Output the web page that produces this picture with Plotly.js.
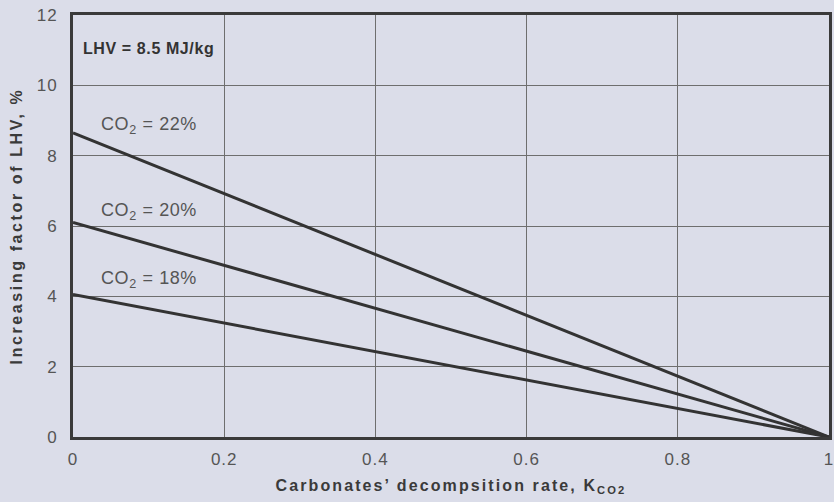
<!DOCTYPE html>
<html>
<head>
<meta charset="utf-8">
<script src="https://cdn.plot.ly/plotly-3.0.1.min.js"></script>
<style>
  html, body { margin: 0; padding: 0; background: #dbdde9; }
  #chart { width: 834px; height: 502px; }
  .xtitle { letter-spacing: 2.1px; }
  .ytitle { letter-spacing: 2.6px; }
  .xtick text, .ytick text { letter-spacing: 1px; }
  .annotation-text { letter-spacing: 0.6px; }
</style>
</head>
<body>
<div id="chart"></div>
<script>
// Carbonate decomposition rate (x) and LHV increase (%) for each flue-gas CO2 content
const decompRate = [0, 1];
const co2Labels = ['CO<sub>2</sub> = 22%', 'CO<sub>2</sub> = 20%', 'CO<sub>2</sub> = 18%'];
const lhvIncrease22 = [8.65, 0];
const lhvIncrease20 = [6.1, 0];
const lhvIncrease18 = [4.05, 0];
const seriesValues = [lhvIncrease22, lhvIncrease20, lhvIncrease18];
const labelY = [8.87, 6.4, 4.47];
const xTickVals = [0, 0.2, 0.4, 0.6, 0.8, 1];
const xTickText = ['0', '0.2', '0.4', '0.6', '0.8', '1'];
const yTickVals = [0, 2, 4, 6, 8, 10, 12];
const yTickText = ['0', '2', '4', '6', '8', '10', '12'];

const lineColor = '#333333';
const textGrey = '#555555';
const FONT = '"Liberation Sans", Arial, sans-serif';

const traces = seriesValues.map((vals, i) => ({
  x: decompRate,
  y: vals,
  type: 'scatter',
  mode: 'lines',
  line: { color: lineColor, width: 3 },
  name: co2Labels[i],
  hoverinfo: 'x+y'
}));

const annotations = co2Labels.map((txt, i) => ({
  x: 0.034, y: labelY[i], xref: 'x', yref: 'y',
  text: txt, showarrow: false, xanchor: 'left', yanchor: 'middle',
  font: { family: FONT, size: 18, color: textGrey }
}));
annotations.push({
  x: 0.011, y: 11.05, xref: 'x', yref: 'y',
  text: 'LHV = 8.5 MJ/kg', showarrow: false, xanchor: 'left', yanchor: 'middle',
  font: { family: FONT, size: 16, color: '#333333', weight: 'bold' }
});

const layout = {
  width: 834, height: 502,
  margin: { l: 73, r: 5, t: 15, b: 65 },
  paper_bgcolor: '#dbdde9',
  plot_bgcolor: '#dbdde9',
  showlegend: false,
  font: { family: FONT, color: textGrey },
  xaxis: {
    range: [0, 1],
    tickvals: xTickVals, ticktext: xTickText,
    tickfont: { family: FONT, size: 17, color: textGrey },
    ticks: '', ticklen: 0, ticklabelstandoff: 5,
    ticklabeloverflow: 'allow',
    showgrid: true, gridcolor: '#6e6e6e', gridwidth: 1,
    zeroline: false,
    showline: true, linecolor: '#3a3a3a', linewidth: 3, mirror: true,
    title: {
      text: 'Carbonates\u2019 decompsition rate, K<sub>CO2</sub>',
      font: { family: FONT, size: 16, color: '#3a3a3a', weight: 'bold' },
      standoff: 12
    }
  },
  yaxis: {
    range: [0, 12],
    tickvals: yTickVals, ticktext: yTickText,
    tickfont: { family: FONT, size: 17, color: textGrey },
    ticks: '', ticklen: 0, ticklabelstandoff: 9,
    ticklabeloverflow: 'allow',
    showgrid: true, gridcolor: '#6e6e6e', gridwidth: 1,
    zeroline: false,
    showline: true, linecolor: '#3a3a3a', linewidth: 3, mirror: true,
    title: {
      text: 'Increasing factor of LHV, %',
      font: { family: FONT, size: 16, color: '#3a3a3a', weight: 'bold' },
      standoff: 11
    }
  },
  annotations: annotations
};

Plotly.newPlot('chart', traces, layout, { displayModeBar: false, staticPlot: true });
</script>
</body>
</html>
